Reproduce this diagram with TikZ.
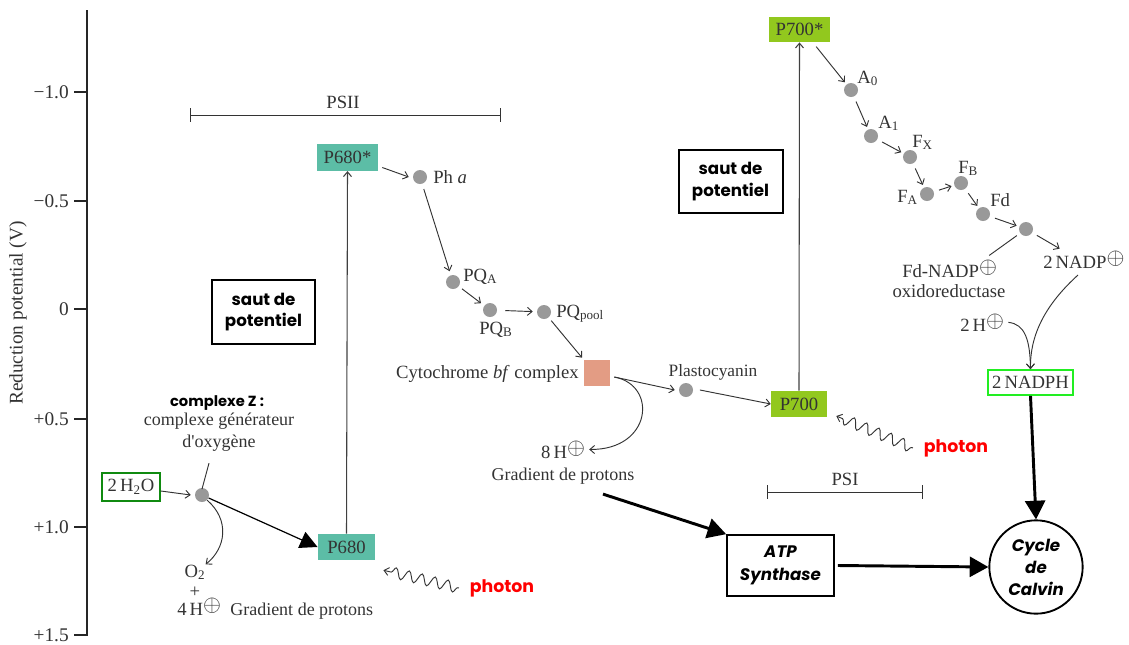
\documentclass[tikz,border=0pt]{standalone}
\usepackage{fontspec}
\setmainfont{Liberation Serif}
\newfontfamily\comic{Poppins}
\usetikzlibrary{arrows.meta,decorations.pathmorphing}
\definecolor{tealbox}{HTML}{5CBDA6}
\definecolor{limebox}{HTML}{92C81E}
\definecolor{salmon}{HTML}{E39C84}
\definecolor{dotgray}{HTML}{999999}
\definecolor{darkgreen}{HTML}{108A10}
\definecolor{brightgreen}{HTML}{22EE22}
\definecolor{inkgray}{HTML}{333333}
\newcommand{\opl}{\raisebox{0.45ex}{\fontsize{16}{16}\selectfont$\oplus$}}
\tikzset{
  txt/.style={text=inkgray, inner sep=0pt},
  dot/.style={circle, fill=dotgray, inner sep=0pt, minimum size=10.5pt},
  colbox/.style={inner sep=0pt, text=inkgray},
  comicbox/.style={draw=black, line width=1.5pt, inner sep=0pt, align=center,
    font=\comic\bfseries\fontsize{12.5}{16}\selectfont},
  thin/.style={draw=inkgray, line width=0.7pt, -{Straight Barb[length=3.5pt,width=6pt]}},
  plain/.style={draw=inkgray, line width=0.7pt},
  bigarrow/.style={draw=black, line width=2.2pt, -{Triangle[length=14pt,width=15pt]}},
  wave/.style={draw=inkgray, line width=0.7pt, decorate,
    decoration={snake, amplitude=4pt, segment length=10pt, pre length=1pt, post length=5pt},
    -{Straight Barb[length=3.5pt,width=6pt]}},
  photontxt/.style={text=red, inner sep=0pt, font=\comic\bfseries\fontsize{13}{15}\selectfont}
}
\begin{document}
\begin{tikzpicture}[x=0.75pt, y=-0.75pt, font=\fontsize{14}{16}\selectfont]
\useasboundingbox (0,0) rectangle (1129,644);

% axis
\draw[black!85, line width=1.4pt] (87,10) -- (87,636);
\foreach \yy/\lab in {92/{−1.0}, 201/{−0.5}, 309/{0}, 419/{+0.5}, 527/{+1.0}, 635/{+1.5}} {
  \draw[black!85, line width=1.2pt] (74,\yy) -- (87,\yy);
  \node[txt, anchor=east, font=\fontsize{14.5}{16}\selectfont] at (69,\yy) {\lab};
}
\node[txt, rotate=90, font=\fontsize{14.5}{16}\selectfont] (axlab) at (18,313) {Reduction potential (V)};

% PSII bar
\draw[inkgray, line width=0.7pt] (190,115) -- (500,115);
\draw[inkgray, line width=0.7pt] (190,108) -- (190,122);
\draw[inkgray, line width=0.7pt] (500,108) -- (500,122);
\node[txt] (psii) at (343,102) {PSII};

% PSI bar
\draw[inkgray, line width=0.7pt] (767,492) -- (922,492);
\draw[inkgray, line width=0.7pt] (767,485) -- (767,499);
\draw[inkgray, line width=0.7pt] (922,485) -- (922,499);
\node[txt] (psi) at (845,479) {PSI};

% coloured boxes
\node[colbox, fill=tealbox, minimum width=45.8pt, minimum height=20pt] (p680s) at (347.5,157.5) {P680*};
\node[colbox, fill=tealbox, minimum width=43pt, minimum height=19.5pt] (p680) at (346.5,547) {P680};
\node[colbox, fill=limebox, minimum width=42pt, minimum height=19.5pt] (p700) at (799,404) {P700};
\node[colbox, fill=limebox, minimum width=45.8pt, minimum height=19pt] (p700s) at (799.5,29.5) {P700*};
\node[fill=salmon, inner sep=0pt, minimum size=19.5pt] (cyt) at (597,373) {};
\node[colbox, draw=darkgreen, line width=1.3pt, minimum width=43pt, minimum height=21pt] (h2o) at (131,487) {2\,H\textsubscript{2}O};
\node[colbox, draw=brightgreen, line width=1.5pt, minimum width=64pt, minimum height=18.5pt] (nadph) at (1030.5,382.5) {2\,NADPH};

% comic boxes
\node[comicbox, minimum width=77pt, minimum height=48pt] (saut1) at (263.5,312) {saut de\\potentiel};
\node[comicbox, minimum width=78pt, minimum height=47pt] (saut2) at (730.5,181.5) {saut de\\potentiel};
\node[comicbox, minimum width=80pt, minimum height=45.5pt, font=\comic\bfseries\itshape\fontsize{12.5}{17}\selectfont] (atp) at (780.5,565.5) {ATP\\Synthase};
\node[comicbox, circle, line width=1.4pt, minimum size=70pt, font=\comic\bfseries\itshape\fontsize{12.5}{16.5}\selectfont] (calvin) at (1036,567) {Cycle\\de\\Calvin};

% dots
\node[dot] (z) at (202,495) {};
\node[dot] (pha) at (420,177) {};
\node[dot] (pqa) at (453,282) {};
\node[dot] (pqb) at (490,310) {};
\node[dot] (pqp) at (544,312) {};
\node[dot] (pc) at (686,390) {};
\node[dot] (a0) at (851,90) {};
\node[dot] (a1) at (871,136) {};
\node[dot] (fx) at (910,157) {};
\node[dot] (fa) at (927,194) {};
\node[dot] (fb) at (961,183) {};
\node[dot] (fd) at (983,214) {};
\node[dot] (fnr) at (1026,229) {};

% labels
\node[txt, anchor=base west] (lpha) at (433,183) {Ph \textit{a}};
\node[txt, anchor=base west] (lpqa) at (463,281) {PQ\textsubscript{A}};
\node[txt, anchor=base west] (lpqb) at (479,334) {PQ\textsubscript{B}};
\node[txt, anchor=base west] (lpqp) at (556,317) {PQ\textsubscript{pool}};
\node[txt, anchor=base east] (lcyt) at (579,378) {Cytochrome \textit{bf} complex};
\node[txt, anchor=base, font=\fontsize{13}{15}\selectfont] (lpc) at (713,376) {Plastocyanin};
\node[txt, anchor=base] (h8) at (563,458) {8\,H\opl};
\node[txt, anchor=base, font=\fontsize{13.5}{15}\selectfont] (grad2) at (563,480) {Gradient de protons};
\node[txt, anchor=base west] (la0) at (857,83) {A\textsubscript{0}};
\node[txt, anchor=base west] (la1) at (878,128) {A\textsubscript{1}};
\node[txt, anchor=base west] (lfx) at (912,147) {F\textsubscript{X}};
\node[txt, anchor=base west] (lfb) at (958,173) {F\textsubscript{B}};
\node[txt, anchor=base west] (lfa) at (897,202) {F\textsubscript{A}};
\node[txt, anchor=base west] (lfd) at (990,206) {Fd};
\node[txt, anchor=base west] (lfdn) at (902,277) {Fd-NADP\opl};
\node[txt, anchor=base] (lox) at (949,297) {oxidoreductase};
\node[txt, anchor=base west] (nadp) at (1043,268) {2\,NADP\opl};
\node[txt, anchor=base west] (h2) at (960,331) {2\,H\opl};
\node[txt, anchor=base, font=\comic\bfseries\fontsize{11}{13}\selectfont, text=black] (lz) at (217,406) {complexe Z :};
\node[txt, anchor=base, font=\fontsize{13.5}{15}\selectfont] (lz2) at (219,425) {complexe générateur};
\node[txt, anchor=base, font=\fontsize{13.5}{15}\selectfont] (lz3) at (219,447) {d\textquotesingle oxygène};
\node[txt, anchor=base] (o2) at (195,577) {O\textsubscript{2}};
\node[txt] (plus) at (195,592) {+};
\node[txt, anchor=base west] (h4) at (177,615) {4\,H\opl};
\node[txt, anchor=base west, font=\fontsize{13.5}{15}\selectfont] (grad1) at (230,615) {Gradient de protons};
\node[photontxt] (ph1) at (502,588) {photon};
\node[photontxt] (ph2) at (956,448) {photon};

% PSII chain
\draw[plain] (lz3.south) ++(-10,12) coordinate (zl) -- ([yshift=-1pt]z.north);
\draw[thin] (h2o) -- ([xshift=-3pt]z.west);
\draw[draw=black, line width=0.9pt, -{Triangle[length=13pt,width=13pt]}] (z) -- (p680.west);
\draw[thin] (z.south east) .. controls (230,520) and (226,548) .. (o2.north east);
\draw[thin, draw=black!75, line width=0.8pt] (p680.north) -- (p680s.south);
\draw[thin] (p680s.east) ++(4,10) coordinate (p680sx) -- ([xshift=-3pt]pha.west);
\draw[thin, shorten <=4pt, shorten >=3pt] (pha) -- (pqa);
\draw[thin, shorten <=3pt, shorten >=3pt] (pqa) -- (pqb);
\draw[thin, shorten <=6pt, shorten >=3pt] (pqb) -- (pqp);
\draw[thin, shorten <=3pt, shorten >=2pt] (pqp) -- (cyt.north west);
\draw[thin] ([shift={(4,4)}]cyt.east) -- ([xshift=-3pt]pc.west);
\draw[thin] (cyt.east) ++(4,4) .. controls (658,385) and (652,450) .. ([xshift=3pt]h8.east);
\draw[thin] ([xshift=5pt]pc.east) -- (p700.west);
\draw[bigarrow] (grad2.south) ++(40,10) coordinate (g2) -- (atp.north west);

% PSI chain
\draw[thin, draw=black!75, line width=0.8pt] (p700.north) -- (p700s.south);
\draw[thin, shorten <=4pt, shorten >=2pt] ([xshift=10pt]p700s.south) -- (a0);
\draw[thin, shorten <=4pt, shorten >=2pt] (a0) -- (a1);
\draw[thin, shorten <=4pt, shorten >=2pt] (a1) -- (fx);
\draw[thin, shorten <=4pt, shorten >=2pt] (fx) -- (fa);
\draw[thin, shorten <=4pt, shorten >=2pt] (fa) -- (fb);
\draw[thin, shorten <=4pt, shorten >=2pt] (fb) -- (fd);
\draw[thin, shorten <=4pt, shorten >=2pt] (fd) -- (fnr);
\draw[thin, shorten <=4pt, shorten >=2pt] (fnr) -- (1062,250) coordinate (nadpin);
\draw[plain, shorten <=3pt] (fnr) -- ([shift={(-8,-4)}]lfdn.north east);
\draw[thin] (1078,275) coordinate (nadpout) .. controls (1045,305) and (1030,335) .. (nadph.north);
\draw[thin] ([xshift=3pt]h2.east) .. controls (1025,324) and (1030,340) .. (nadph.north);
\draw[bigarrow] (nadph.south) -- (calvin.north);
\draw[bigarrow] (atp.east) ++(3,0) coordinate (atpe) -- (calvin.west);

% photons
\draw[wave] ([xshift=-8pt]ph1.west) -- ([shift={(8,10)}]p680.south east);
\draw[wave] ([xshift=-8pt]ph2.west) -- ([shift={(9,12)}]p700.east);
\end{tikzpicture}
\end{document}
